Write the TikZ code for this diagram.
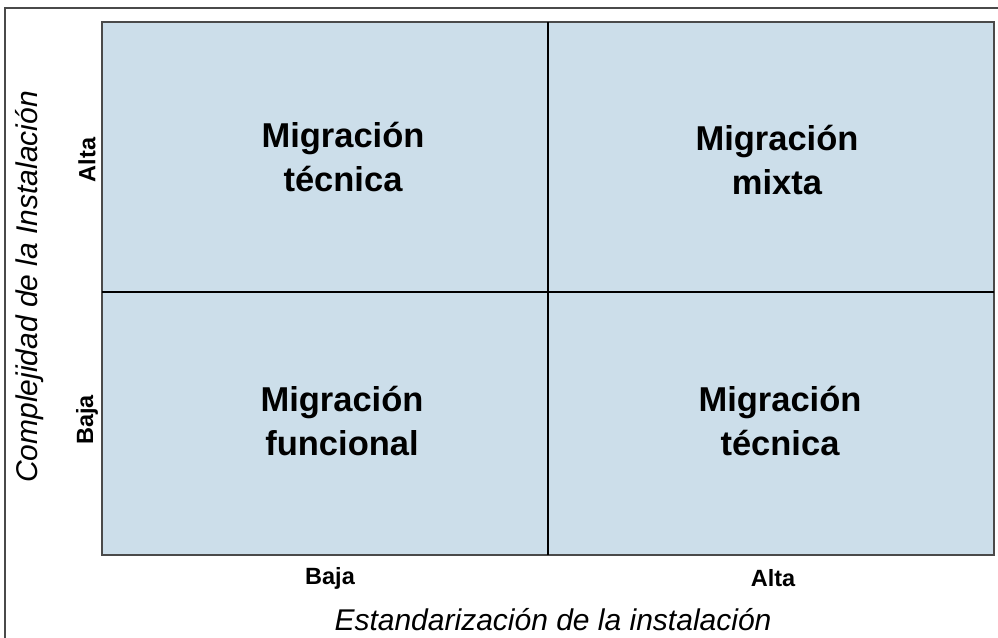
\documentclass[tikz,border=0pt]{standalone}
\usepackage{fontspec}
\setmainfont{Liberation Sans}
\definecolor{cellblue}{HTML}{CCDEEA}
\definecolor{framegray}{HTML}{4A4A4A}

\begin{document}
\begin{tikzpicture}[x=1pt,y=-1pt,
  quad/.style={font=\fontsize{34.5}{44}\selectfont\bfseries,align=center,inner sep=0pt},
  tick/.style={font=\fontsize{23.5}{26}\selectfont\bfseries,inner sep=0pt},
  axis/.style={font=\fontsize{30}{34}\selectfont\itshape,inner sep=0pt}]
	\useasboundingbox (0,0) rectangle (998,637);
	% outer frame
	\draw [framegray,line width=1.8pt] (5,660) -- (5,8) -- (1010,8);
	% cells
	\coordinate (nw) at (102,22);
	\coordinate (se) at (994,555);
	\coordinate (mid) at (548,292);
	\fill [cellblue] (nw) rectangle (se);
	\draw [framegray,line width=1.2pt] (nw) rectangle (se);
	% dividers
	\draw [black,line width=1.4pt] (mid |- nw) -- (mid |- se);
	\draw [black,line width=1.4pt] (mid -| nw) -- (mid -| se);
	% quadrant labels
	\node [quad] (tl) at (343,157) {Migración\\técnica};
	\node [quad] (tr) at (777,160) {Migración\\mixta};
	\node [quad] (bl) at (342,421) {Migración\\funcional};
	\node [quad] (br) at (780,421) {Migración\\técnica};
	% tick labels
	\node [tick] (xlow) at (330,578) {Baja};
	\node [tick] (xhigh) at (773,578) {Alta};
	\node [tick,rotate=90] (yhigh) at (87,160) {Alta};
	\node [tick,rotate=90] (ylow) at (87,420) {Baja};
	% axis titles
	\node [axis] (xtitle) at (553,620) {Estandarización de la instalación};
	\node [axis,rotate=90] (ytitle) at (30,287) {Complejidad de la Instalación};
\end{tikzpicture}
\end{document}
